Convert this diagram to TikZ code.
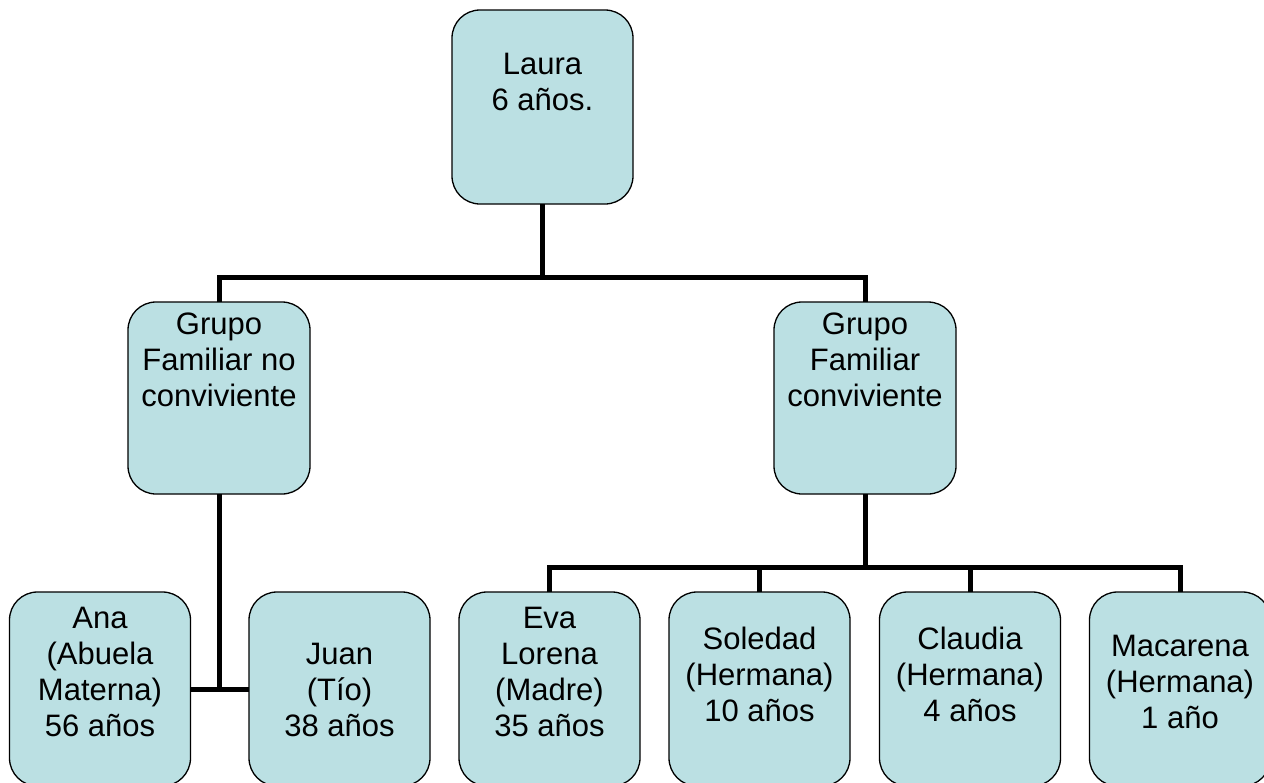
\documentclass[tikz,border=0pt]{standalone}
\usepackage{fontspec}
\setmainfont{Liberation Sans}
\usetikzlibrary{positioning}
\definecolor{cajaAzul}{RGB}{187,224,227}

\tikzset{
  caja/.style={draw=black, line width=1.3pt, fill=cajaAzul, rounded corners=28pt,
    minimum width=181pt, minimum height=194pt, inner sep=0pt, outer sep=0pt},
  rotulo/.style={align=center, inner sep=0pt, outer sep=0pt,
    font=\fontsize{31}{36}\selectfont,
    execute at begin node=\strut, execute at end node=\strut},
  rama/.style={line width=5pt}
}

\begin{document}
\begin{tikzpicture}[x=1pt,y=1pt]

      \useasboundingbox (0,0) rectangle (1264,-782);
      \clip (0,0) rectangle (1264,-782);

      % draw the boxes
      \node[caja] (laura) at (542.5,-107) {};
      \node[caja, minimum width=182pt, minimum height=192pt] (noconv) at (219,-398) {};
      \node[caja, minimum width=182pt, minimum height=192pt] (conv) at (865,-398) {};
      \foreach \nombre/\x in {ana/100,juan/339.5,eva/549.5,soledad/759.5,claudia/970,macarena/1180}
        \node[caja] (\nombre) at (\x,-689) {};

      % label the boxes
      \node[rotulo, below=42.8pt of laura.north] (laura-t) {Laura\\6 años.};
      \node[rotulo, below=10.8pt of noconv.north] (noconv-t) {Grupo\\Familiar no\\conviviente};
      \node[rotulo, below=10.8pt of conv.north] (conv-t) {Grupo\\Familiar\\conviviente};
      \node[rotulo, below=14.8pt of ana.north] (ana-t) {Ana\\(Abuela\\Materna)\\56 años};
      \node[rotulo, below=50.8pt of juan.north] (juan-t) {Juan\\(Tío)\\38 años};
      \node[rotulo, below=14.8pt of eva.north] (eva-t) {Eva\\Lorena\\(Madre)\\35 años};
      \node[rotulo, below=34.8pt of soledad.north] (soledad-t) {Soledad\\(Hermana)\\10 años};
      \node[rotulo, below=34.8pt of claudia.north] (claudia-t) {Claudia\\(Hermana)\\4 años};
      \node[rotulo, below=42.8pt of macarena.north] (macarena-t) {Macarena\\(Hermana)\\1 año};

      % draw the branches
      \draw[rama] (laura.south) -- ++(0,-73) coordinate (nudo1);
      \draw[rama] (noconv.north) |- (nudo1) -| (conv.north);

      \draw[rama] (noconv.south) -- (noconv.south |- ana.east);
      \draw[rama] (ana.east) -- (juan.west);

      \draw[rama] (conv.south) -- ++(0,-73) coordinate (nudo2);
      \draw[rama] (eva.north) |- (nudo2) -| (macarena.north);
      \foreach \hijo in {soledad,claudia}
        \draw[rama] (\hijo.north) -- (\hijo.north |- nudo2);

\end{tikzpicture}
\end{document}
